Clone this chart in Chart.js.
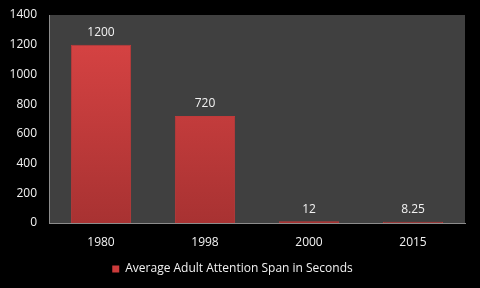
<!DOCTYPE html>
<html>
<head>
<meta charset="utf-8">
<script src="https://cdn.jsdelivr.net/npm/chart.js@4/dist/chart.umd.min.js"></script>
<style>
  html, body { margin: 0; padding: 0; background: #000; }
  #wrap { width: 480px; height: 288px; }
</style>
</head>
<body>
<div id="wrap"><canvas id="chart" width="480" height="288"></canvas></div>
<script>
// attention span chart
const years = ['1980', '1998', '2000', '2015'];
const spanSeconds = [1200, 720, 12, 8.25];
const valueLabels = ['1200', '720', '12', '8.25'];
const seriesName = 'Average Adult Attention Span in Seconds';

const FONT = "'Open Sans', 'DejaVu Sans', sans-serif";

// plot background + value labels
const plotDecor = {
  id: 'plotDecor',
  beforeDraw(chart) {
    const { ctx, chartArea: a } = chart;
    ctx.save();
    ctx.fillStyle = '#000';
    ctx.fillRect(0, 0, chart.width, chart.height);
    ctx.fillStyle = '#404040';
    ctx.fillRect(a.left, a.top, a.right - a.left, a.bottom - a.top);
    ctx.restore();
  },
  afterDatasetsDraw(chart) {
    const { ctx } = chart;
    const meta = chart.getDatasetMeta(0);
    ctx.save();
    ctx.font = '12px ' + FONT;
    ctx.fillStyle = '#f2f2f2';
    ctx.textAlign = 'center';
    ctx.textBaseline = 'bottom';
    meta.data.forEach((bar, i) => {
      ctx.fillText(valueLabels[i], bar.x, bar.y - 6);
    });
    ctx.restore();
  }
};

function barFill(context) {
  const chart = context.chart;
  const a = chart.chartArea;
  if (!a) return '#d04040';
  const g = chart.ctx.createLinearGradient(0, a.top, 0, a.bottom);
  g.addColorStop(0, '#dc4545');
  g.addColorStop(1, '#a83232');
  return g;
}

new Chart(document.getElementById('chart'), {
  type: 'bar',
  data: {
    labels: years,
    datasets: [{
      label: seriesName,
      data: spanSeconds,
      backgroundColor: barFill,
      borderColor: '#c03a3a',
      borderWidth: 1,
      barPercentage: 0.58,
      categoryPercentage: 1.0
    }]
  },
  plugins: [plotDecor],
  options: {
    responsive: false,
    animation: false,
    layout: { padding: { top: 15, right: 15, left: 0, bottom: 3 } },
    scales: {
      y: {
        min: 0,
        max: 1400,
        ticks: {
          stepSize: 200, color: '#f2f2f2', font: { family: FONT, size: 12 }, padding: 12,
          callback: v => String(v)
        },
        grid: { display: false, drawTicks: false },
        border: { display: true, color: '#8c8c8c', width: 1 },
        afterFit(scale) {
          scale.width = 49;
          scale.paddingTop = 0;
          scale.paddingBottom = 0;
        }
      },
      x: {
        ticks: { color: '#f2f2f2', font: { family: FONT, size: 12 }, padding: 12 },
        grid: { display: false, drawTicks: false },
        border: { display: true, color: '#8c8c8c', width: 1 },
        afterFit(scale) {
          scale.height = 34;
          scale.paddingLeft = 0;
          scale.paddingRight = 0;
        }
      }
    },
    plugins: {
      legend: {
        position: 'bottom',
        labels: {
          color: '#f2f2f2',
          font: { family: FONT, size: 12 },
          boxWidth: 7,
          boxHeight: 7,
          padding: 6,
          generateLabels(chart) {
            return [{
              text: seriesName,
              fillStyle: '#cc3b3b',
              strokeStyle: '#cc3b3b',
              lineWidth: 0,
              fontColor: '#f2f2f2',
              datasetIndex: 0
            }];
          }
        }
      },
      tooltip: { enabled: false }
    }
  }
});
</script>
</body>
</html>
